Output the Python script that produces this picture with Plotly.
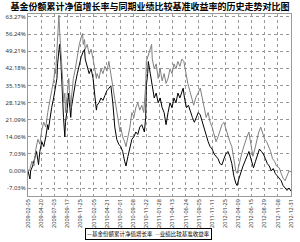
import plotly.graph_objects as go

# trading-day index and cumulative returns (%)
fund_days = [0,1,3,4,7,10,13,16,18,21,24,27,30,31,33,36,39,41,42,44,45,47,48,50,51,53,54,56,57,59,60,62,63,65,66,69,72,75,78,81,84,86,87,90,93,96,99,102,104,105,108,111,114,117,120,123,126,129,132,135,138,141,144,147,149,152,155,158,161,164,167,170,173,176,177,179,180,182,183,186,189,192,195,198,201,204,207,210,213,216,219,222,225,228,231,234,236,238,241,244,247,250,253,256,259,262,265,268,271,274,277,280,283,286,289,292,295,298,301,304,307,310,313,316,318,321,324,327,330,333,336,339,342,343,346,349,352,355,358,361,364,367,370,373,376,379,382,385,388,391,394,397,400]
fund_vals = [0,-1,-3.3,0,2,5,8,2.6,8,12,10,14,19,17,21,26,30,33,35,38,44,48,52,45,38,30,22,14,20,24,28,32,28,22,26,32,36,40,44,47,49,50,46,43,40,42,38,30,25,27,28,30,29,31,33,34,35,28,18,13,11,10,8,4,2,6,10,13,14,16,15,18,19,17,16,22,35,40,45,40,35,30,32,28,30,26,24,19,24,28,26,30,28,32,30,33,34,30,26,27,24,22,20,22,24,23,20,18,14,12,10,9,7,6,5,3,2.5,5,7,8,6,3,-2,-5,-6,-3,0,2,4,6,8,5,2,1.3,4,7,9,8,7,5,3,2,0,1,-1,-2,-3,-4,-6,-7,-8,-7,-8.3]

bench_days = [0,3,6,9,12,15,18,21,24,27,30,33,36,39,41,42,44,45,47,48,50,51,53,54,56,57,59,60,62,63,65,66,69,72,75,78,81,83,84,86,87,90,93,96,99,102,104,105,108,111,114,117,120,123,126,128,131,134,137,140,141,144,147,149,152,155,158,161,164,167,170,173,176,177,179,180,183,186,188,189,192,195,198,201,204,207,210,213,216,219,222,225,228,231,234,237,240,243,246,249,252,255,258,262,265,268,271,274,277,280,283,286,289,292,295,298,301,304,307,310,313,316,318,321,324,327,330,333,336,339,342,345,348,351,354,357,360,363,366,369,372,375,378,382,385,388,391,394,397,400]
bench_vals = [0,1,4,2,9,13,11,17,20,18,24,29,33,37,42,40,48,55,64,58,50,44,36,28,32,24,30,34,38,33,26,30,38,42,48,52,55,56.5,52,54,50,52,48,50,46,42,38,40,38,42,40,43,41,45,40,36,30,25,20,16,18,14,12,10,14,18,24,22,26,28,25,27,24,28,35,45,48,51,52,46,42,44,38,42,37,40,36,38,42,40,44,42,45,43,46,45,40,36,33,30,27,30,32,34,30,26,22,24,20,18,15,12,14,17,19,20,17,14,12,10,5,0,-1,3,6,9,12,14,16,10,6,9,13,16,18,15,13,12,10,8,5,4,2,1.3,-1,-3,-4,-2,0,-0.4]

tick_days = list(range(0, 401, 20))
tick_labels = ["2009-02-05","2009-04-20","2009-07-03","2009-09-17","2009-11-25",
               "2010-02-05","2010-04-21","2010-07-01","2010-09-08","2010-11-22",
               "2011-01-28","2011-04-13","2011-06-24","2011-09-05","2011-11-11",
               "2012-01-25","2012-04-09","2012-06-15","2012-08-29","2012-11-08",
               "2012-12-31"]
y_ticks = [-7.03,0.00,7.03,14.06,21.09,28.12,35.15,42.18,49.21,56.24,63.27]
y_labels = ["%.2f%%" % v for v in y_ticks]

fund_name = "基金份额累计净值增长率"
bench_name = "业绩比较基准收益率"
fund_color = "#000000"
bench_color = "#808080"

fig = go.Figure()
fig.add_trace(go.Scatter(x=fund_days, y=fund_vals, mode="lines", name=fund_name,
                         line=dict(color=fund_color, width=1)))
fig.add_trace(go.Scatter(x=bench_days, y=bench_vals, mode="lines", name=bench_name,
                         line=dict(color=bench_color, width=1)))

legend_text = ("<span style='color:%s'>—</span>%s  <span style='color:%s'>—</span>%s"
               % (fund_color, fund_name, bench_color, bench_name))
fig.add_annotation(text=legend_text, xref="paper", yref="paper", x=0.46, y=-0.209,
                   xanchor="center", yanchor="middle", showarrow=False,
                   font=dict(family="Noto Sans CJK SC", size=5.5, color="#000"),
                   bordercolor="#000", borderwidth=1, borderpad=1, bgcolor="white")

fig.update_layout(
    width=300, height=242,
    margin=dict(l=28, r=5, t=14, b=46),
    paper_bgcolor="white", plot_bgcolor="white",
    title=dict(text="<b>基金份额累计净值增长率与同期业绩比较基准收益率的历史走势对比图</b>",
               x=0.5, xanchor="center", y=0.971, yanchor="middle",
               font=dict(family="Noto Sans CJK SC", size=9, color="#000")),
    showlegend=False,
    xaxis=dict(range=[0, 400], tickmode="array", tickvals=tick_days, ticktext=tick_labels,
               tickangle=-90, tickfont=dict(family="Noto Sans", size=5.5, color="#333"),
               showgrid=True, gridcolor="#999", griddash="dot", gridwidth=1,
               showline=True, linecolor="#999", mirror=True, zeroline=False, ticks=""),
    yaxis=dict(range=[-10.3, 64.5], tickmode="array", tickvals=y_ticks, ticktext=y_labels,
               tickfont=dict(family="Noto Sans", size=6, color="#333"),
               showgrid=True, gridcolor="#999", griddash="dot", gridwidth=1,
               showline=True, linecolor="#999", mirror=True, zeroline=False, ticks=""),
)

fig.write_html("out.html")
